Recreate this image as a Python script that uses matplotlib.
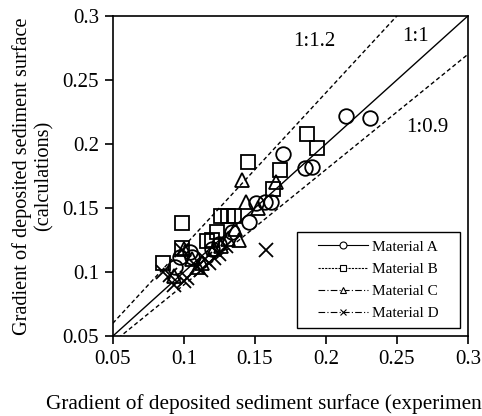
import matplotlib
matplotlib.use("Agg")
import matplotlib.pyplot as plt
from matplotlib.lines import Line2D
from matplotlib.patches import Rectangle
import numpy as np

plt.rcParams['font.family'] = ['Liberation Serif', 'DejaVu Serif']

# Data
a_x = [0.214, 0.231, 0.170, 0.185, 0.190, 0.161, 0.157, 0.151, 0.146, 0.134, 0.106, 0.094, 0.120, 0.125, 0.097, 0.104]
a_y = [0.222, 0.220, 0.192, 0.181, 0.182, 0.155, 0.155, 0.154, 0.139, 0.131, 0.112, 0.104, 0.118, 0.122, 0.112, 0.116]
b_x = [0.187, 0.194, 0.168, 0.145, 0.163, 0.126, 0.131, 0.135, 0.099, 0.120, 0.116, 0.085, 0.099, 0.123]
b_y = [0.208, 0.197, 0.180, 0.186, 0.165, 0.144, 0.144, 0.144, 0.138, 0.125, 0.124, 0.107, 0.119, 0.131]
c_x = [0.141, 0.165, 0.144, 0.152, 0.136, 0.139, 0.131, 0.121, 0.100, 0.106, 0.093, 0.113, 0.126, 0.110]
c_y = [0.172, 0.170, 0.155, 0.150, 0.134, 0.125, 0.126, 0.118, 0.118, 0.110, 0.097, 0.107, 0.120, 0.104]
d_x = [0.158, 0.090, 0.093, 0.102, 0.099, 0.109, 0.118, 0.115, 0.125, 0.100, 0.121, 0.085, 0.112, 0.130]
d_y = [0.117, 0.098, 0.090, 0.095, 0.117, 0.104, 0.107, 0.110, 0.114, 0.093, 0.111, 0.100, 0.102, 0.120]
ref_slopes = [1.0, 1.2, 0.9]
ref_labels = ["1:1", "1:1.2", "1:0.9"]
ticks = [0.05, 0.1, 0.15, 0.2, 0.25, 0.3]
tick_labels = ["0.05", "0.1", "0.15", "0.2", "0.25", "0.3"]
series_names = ["Material A", "Material B", "Material C", "Material D"]

fig = plt.figure(figsize=(4.82, 4.16), dpi=100)
ax = fig.add_axes([0.234, 0.192, 0.737, 0.770])

xs = np.array([0.05, 0.3])
ax.plot(xs, ref_slopes[0] * xs, color='black', lw=1.0, zorder=1)
ax.plot(xs, ref_slopes[1] * xs, color='black', lw=1.0, ls=(0, (3, 2)), zorder=1)
ax.plot(xs, ref_slopes[2] * xs, color='black', lw=1.0, ls=(0, (3, 2)), zorder=1)

ms = 10.5
mew = 1.3
ax.plot(a_x, a_y, ls='none', marker='o', ms=ms, mfc='none', mec='black', mew=mew, zorder=3)
ax.plot(b_x, b_y, ls='none', marker='s', ms=ms, mfc='none', mec='black', mew=mew, zorder=3)
ax.plot(c_x, c_y, ls='none', marker='^', ms=ms, mfc='none', mec='black', mew=mew, zorder=3)
ax.plot(d_x, d_y, ls='none', marker='x', ms=ms, mfc='none', mec='black', mew=mew, zorder=3)

ax.text(0.192, 0.280, ref_labels[1], fontsize=15, ha='center', va='center')
ax.text(0.263, 0.284, ref_labels[0], fontsize=15, ha='center', va='center')
ax.text(0.271, 0.213, ref_labels[2], fontsize=15, ha='center', va='center')

ax.set_xlim(0.05, 0.3)
ax.set_ylim(0.05, 0.3)
ax.set_xticks(ticks)
ax.set_xticklabels(tick_labels)
ax.set_yticks(ticks)
ax.set_yticklabels(tick_labels)
ax.tick_params(direction='out', length=6, width=1.2, labelsize=15, pad=4)
for s in ax.spines.values():
    s.set_linewidth(1.2)

ax.set_xlabel("Gradient of deposited sediment surface (experiments)", fontsize=15.3)
ax.xaxis.set_label_coords(0.455, -0.180)
ax.set_ylabel("Gradient of deposited sediment surface\n(calculations)", fontsize=14.6, labelpad=6)

# legend frame drawn as a rectangle in axes coordinates
ax.add_patch(Rectangle((0.518, 0.025), 0.459, 0.30, transform=ax.transAxes,
                       fill=True, facecolor='white', edgecolor='black', lw=1.0, zorder=5))

handles = [
    Line2D([], [], color='black', lw=0.8, ls='-', marker='o', ms=5, mfc='white', mec='black', mew=0.8),
    Line2D([], [], color='black', lw=0.8, ls=(0, (2, 1)), marker='s', ms=5, mfc='white', mec='black', mew=0.8),
    Line2D([], [], color='black', lw=0.8, ls=(0, (6, 2, 1, 2)), marker='^', ms=5, mfc='white', mec='black', mew=0.8),
    Line2D([], [], color='black', lw=0.8, ls=(0, (6, 2, 1, 2)), marker='x', ms=5, mfc='white', mec='black', mew=0.8),
]
leg = ax.legend(handles, series_names, loc='center', bbox_to_anchor=(0.748, 0.175),
                fontsize=11, frameon=False, handlelength=3.3, handletextpad=0.25,
                borderpad=0.0, labelspacing=0.55)
leg.set_zorder(6)

fig.savefig("out.png", dpi=100)
